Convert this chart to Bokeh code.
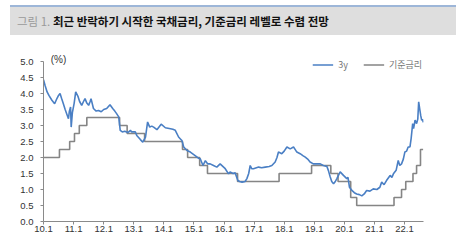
from bokeh.plotting import figure
from bokeh.models import (Div, Legend, LegendItem, Label, FixedTicker)
from bokeh.layouts import column
from bokeh.embed import file_html
from bokeh.resources import INLINE

# ---- data ----
y3_t = [2010.0, 2010.05, 2010.12, 2010.18, 2010.28, 2010.37, 2010.45, 2010.5, 2010.55, 2010.6,
        2010.66, 2010.72, 2010.77, 2010.83, 2010.86, 2010.9, 2010.92, 2010.96, 2011.02, 2011.07,
        2011.15, 2011.2, 2011.27, 2011.33, 2011.38, 2011.44, 2011.5, 2011.55, 2011.58, 2011.66,
        2011.75, 2011.83, 2011.92, 2012.0, 2012.1, 2012.21, 2012.3, 2012.37, 2012.43, 2012.5,
        2012.55, 2012.62, 2012.7, 2012.8, 2012.89, 2012.93, 2013.05, 2013.1, 2013.22, 2013.3,
        2013.39, 2013.46, 2013.53, 2013.6, 2013.66, 2013.77, 2013.91, 2014.05, 2014.22, 2014.3,
        2014.38, 2014.49, 2014.55, 2014.6, 2014.66, 2014.77, 2014.88, 2015.04, 2015.15, 2015.21,
        2015.3, 2015.38, 2015.46, 2015.54, 2015.65, 2015.76, 2015.87, 2016.04, 2016.15, 2016.2,
        2016.3, 2016.37, 2016.46, 2016.52, 2016.6, 2016.7, 2016.76, 2016.82, 2016.87, 2016.92,
        2016.98, 2017.15, 2017.25, 2017.37, 2017.5, 2017.59, 2017.7, 2017.76, 2017.81, 2017.92,
        2018.0, 2018.09, 2018.2, 2018.31, 2018.42, 2018.53, 2018.62, 2018.7, 2018.78, 2018.86,
        2018.97, 2019.1, 2019.2, 2019.3, 2019.42, 2019.47, 2019.53, 2019.58, 2019.64, 2019.7,
        2019.75, 2019.86, 2019.97, 2020.08, 2020.12, 2020.17, 2020.25, 2020.33, 2020.41, 2020.5,
        2020.58, 2020.66, 2020.74, 2020.85, 2020.96, 2021.08, 2021.18, 2021.24, 2021.32, 2021.4,
        2021.52, 2021.58, 2021.63, 2021.72, 2021.79, 2021.84, 2021.9, 2021.96, 2022.01, 2022.07,
        2022.12, 2022.18, 2022.22, 2022.27, 2022.3, 2022.35, 2022.4, 2022.44, 2022.47, 2022.51,
        2022.54, 2022.57, 2022.6, 2022.62]
y3_v = [4.43, 4.26, 4.05, 3.94, 3.79, 3.68, 3.85, 3.94, 4.0, 3.85,
        3.68, 3.5, 3.37, 3.21, 3.45, 3.58, 2.95, 3.4, 3.7, 4.05,
        3.9, 3.75, 3.63, 3.75, 3.84, 3.7, 3.63, 3.75, 3.84, 3.53,
        3.45, 3.47, 3.43, 3.5, 3.53, 3.65, 3.53, 3.45, 3.37, 3.27,
        2.85, 2.8, 2.82, 2.78, 2.85, 2.8, 2.8, 2.69, 2.56, 2.48,
        2.64, 3.11, 2.95, 2.98, 2.95, 2.87, 3.04, 2.93, 2.9, 2.88,
        2.85, 2.64, 2.58, 2.53, 2.33, 2.22, 2.17, 2.06, 1.98, 1.96,
        1.75, 1.9, 1.8, 1.8, 1.75, 1.7, 1.8, 1.65, 1.49, 1.55,
        1.5, 1.52, 1.28, 1.25, 1.23, 1.25, 1.34, 1.5, 1.75, 1.65,
        1.65, 1.7, 1.68, 1.7, 1.72, 1.75, 1.86, 2.0, 2.17, 2.12,
        2.2, 2.33, 2.27, 2.33, 2.17, 2.12, 2.06, 2.01, 1.95, 1.86,
        1.8, 1.8, 1.8, 1.75, 1.72, 1.59, 1.39, 1.25, 1.18, 1.25,
        1.34, 1.55, 1.44, 1.34, 1.38, 1.07, 0.97, 0.9, 0.86, 0.84,
        0.8, 0.86, 0.97, 0.95, 1.02, 1.0, 1.07, 1.23, 1.15, 1.28,
        1.44, 1.38, 1.49, 1.6, 1.91, 1.75, 1.8, 1.95, 2.17, 2.2,
        2.33, 2.33, 2.6, 3.06, 2.9, 3.17, 3.06, 3.2, 3.74, 3.48,
        3.3, 3.16, 3.2, 3.1]

base_t = [2010.0, 2010.53, 2010.87, 2011.03, 2011.19, 2011.44, 2012.53, 2012.78, 2013.36,
          2014.62, 2014.79, 2015.19, 2015.45, 2016.45, 2017.83, 2018.91, 2019.55, 2019.79,
          2020.21, 2020.41, 2021.65, 2021.9, 2022.04, 2022.28, 2022.4, 2022.53, 2022.62]
base_v = [2.00, 2.25, 2.50, 2.75, 3.00, 3.25, 3.00, 2.75, 2.50,
          2.25, 2.00, 1.75, 1.50, 1.25, 1.50, 1.75, 1.50, 1.25,
          0.75, 0.50, 0.75, 1.00, 1.25, 1.50, 1.75, 2.25, 2.25]

x_ticks = [2010, 2011, 2012, 2013, 2014, 2015, 2016, 2017, 2018, 2019, 2020, 2021, 2022]
x_labels = ["10.1", "11.1", "12.1", "13.1", "14.1", "15.1", "16.1", "17.1", "18.1",
            "19.1", "20.1", "21.1", "22.1"]
y_ticks = [0.0, 0.5, 1.0, 1.5, 2.0, 2.5, 3.0, 3.5, 4.0, 4.5, 5.0]

title_prefix = "그림 1."
title_text = "최근 반락하기 시작한 국채금리, 기준금리 레벨로 수렴 전망"
series_names = ["3y", "기준금리"]
unit_label = "(%)"

# ---- header ----
header = Div(
    width=474, height=40, margin=0,
    text=(
        '<div style="position:relative;width:474px;height:40px;">'
        '<div style="position:absolute;left:10px;top:5px;width:446px;height:2px;background:#9db6d8;"></div>'
        '<div style="position:absolute;left:10px;top:7px;width:446px;height:28px;background:#dedede;'
        'font-family:\'Noto Sans CJK KR\';font-size:11.5px;line-height:28px;white-space:nowrap;">'
        '<span style="margin-left:7px;color:#9a9a9a;">' + title_prefix + '</span> '
        '<span style="color:#111;font-weight:bold;">' + title_text + '</span></div></div>'
    ),
)

footer = Div(
    width=474, height=3, margin=0,
    text='<div style="position:relative;width:474px;height:3px;">'
         '<div style="position:absolute;left:10px;top:0px;width:446px;height:3px;background:#a8a8a8;"></div></div>',
)

p = figure(width=474, height=201, output_backend="svg", toolbar_location=None,
           x_range=(2010.0, 2022.63), y_range=(0, 5.25),
           min_border_left=43, min_border_right=51, min_border_top=13, min_border_bottom=20,
           outline_line_color=None, background_fill_color="white", border_fill_color="white")
p.margin = 0

r_base = p.step(base_t, base_v, mode="after", line_color="#858585", line_width=1.6)
r_3y = p.line(y3_t, y3_v, line_color="#4a7fc4", line_width=1.6)

p.xgrid.visible = False
p.ygrid.visible = False

for ax in (p.xaxis, p.yaxis):
    ax.axis_line_color = "#8a8a8a"
    ax.major_tick_line_color = "#8a8a8a"
    ax.minor_tick_line_color = None
    ax.major_tick_in = 0
    ax.major_tick_out = 3
    ax.major_label_text_font = "Liberation Sans"
    ax.major_label_text_font_size = "9.5px"
    ax.major_label_text_color = "#333333"

p.xaxis.ticker = FixedTicker(ticks=x_ticks)
p.xaxis.major_label_overrides = {t: l for t, l in zip(x_ticks, x_labels)}
p.xaxis.major_label_standoff = 1
p.yaxis.ticker = FixedTicker(ticks=y_ticks)
p.yaxis.major_label_overrides = {t: f"{t:.1f}" for t in y_ticks}
p.yaxis.major_label_standoff = 7
p.yaxis.bounds = (0, 5.0)

legend = Legend(items=[LegendItem(label=series_names[0], renderers=[r_3y]),
                       LegendItem(label=series_names[1], renderers=[r_base])],
                orientation="horizontal", location="top_right",
                border_line_alpha=0, background_fill_alpha=0,
                margin=1, padding=0, spacing=15, glyph_width=21, glyph_height=21,
                label_standoff=5, label_height=21, label_width=8,
                label_text_font="Noto Sans CJK KR", label_text_font_size="9px",
                label_text_color="#777777")
p.add_layout(legend)

p.add_layout(Label(x=2010.24, y=5.0, text=unit_label, text_baseline="middle", y_offset=2,
                   text_font="Liberation Sans", text_font_size="10px", text_color="#333333"))

layout = column(header, p, footer, spacing=0)
layout.margin = 0
open("out.html", "w").write(file_html(layout, INLINE))
